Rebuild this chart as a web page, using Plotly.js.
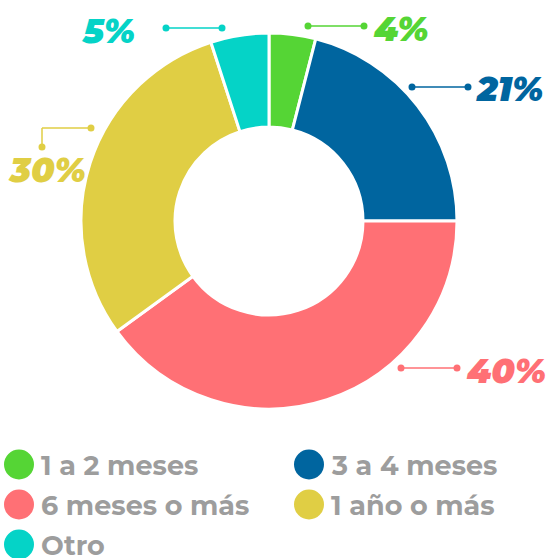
<!DOCTYPE html>
<html>
<head>
<meta charset="utf-8">
<script src="https://cdn.plot.ly/plotly-3.0.1.min.js"></script>
<style>html,body{margin:0;padding:0;background:#fff;}#chart{width:546px;height:558px;}</style>
</head>
<body>
<div id="chart"></div>
<script>
// ---- data ----
const categories = ["1 a 2 meses", "3 a 4 meses", "6 meses o más", "1 año o más", "Otro"];
const values = [4, 21, 40, 30, 5];
const colors = ["#55d535", "#00659f", "#ff7075", "#e0ce44", "#05d3c7"];

// ---- layout helpers (pixel -> paper) ----
const W = 546, H = 558;
const px = x => x / W;
const py = y => 1 - y / H;

// label placement (style/position config, not data)
const labelCfg = [
  {tx: 371, ty: 29, anchor: "left",  pts: [[308,26],[364,26]]},
  {tx: 474, ty: 89, anchor: "left",  pts: [[412,87],[468,87]]},
  {tx: 464, ty: 371, anchor: "left", pts: [[401,368],[457,368]]},
  {tx: 6,   ty: 170, anchor: "left", pts: [[91,128],[42,128],[42,147]]},
  {tx: 137, ty: 31, anchor: "right", pts: [[166,28],[222,28]]}
];
const legendCfg = [
  {cx: 19, cy: 464.5}, {cx: 309, cy: 464.5},
  {cx: 19, cy: 504.5}, {cx: 309, cy: 504.5},
  {cx: 19, cy: 544.5}
];

const total = values.reduce((a, b) => a + b, 0);
const shapes = [];
const annotations = [];

values.forEach((v, i) => {
  const c = labelCfg[i];
  const pct = Math.round(v / total * 100) + "%";
  for (let k = 0; k < c.pts.length - 1; k++) {
    shapes.push({type: "line", xref: "paper", yref: "paper",
      x0: px(c.pts[k][0]), y0: py(c.pts[k][1]), x1: px(c.pts[k+1][0]), y1: py(c.pts[k+1][1]),
      line: {color: colors[i], width: 1.5}});
  }
  [c.pts[0], c.pts[c.pts.length - 1]].forEach(p => {
    shapes.push({type: "circle", xref: "paper", yref: "paper",
      xsizemode: "pixel", ysizemode: "pixel", xanchor: px(p[0]), yanchor: py(p[1]),
      x0: -3.5, x1: 3.5, y0: -3.5, y1: 3.5,
      fillcolor: colors[i], line: {width: 0}});
  });
  annotations.push({text: pct, xref: "paper", yref: "paper", x: px(c.tx), y: py(c.ty),
    xanchor: c.anchor, yanchor: "middle", showarrow: false,
    font: {family: "Montserrat, 'Open Sans', sans-serif", size: 34, color: colors[i], weight: 900, style: "italic"}});
});

categories.forEach((name, i) => {
  const l = legendCfg[i];
  shapes.push({type: "circle", xref: "paper", yref: "paper",
    xsizemode: "pixel", ysizemode: "pixel", xanchor: px(l.cx), yanchor: py(l.cy),
    x0: -15, x1: 15, y0: -15, y1: 15,
    fillcolor: colors[i], line: {width: 0}});
  annotations.push({text: name, xref: "paper", yref: "paper", x: px(l.cx + 20), y: py(l.cy + 1),
    xanchor: "left", yanchor: "middle", showarrow: false,
    font: {family: "Montserrat, 'Open Sans', sans-serif", size: 27, color: "#9d9d9d", weight: 700}});
});

const trace = {
  type: "pie",
  labels: categories,
  values: values,
  hole: 0.5,
  sort: false,
  direction: "clockwise",
  rotation: 0,
  textinfo: "none",
  hoverinfo: "label+percent",
  marker: {colors: colors, line: {color: "#ffffff", width: 3}},
  domain: {x: [px(81), px(457)], y: [py(409), py(33)]},
  showlegend: false
};

const layout = {
  width: W, height: H,
  margin: {l: 0, r: 0, t: 0, b: 0},
  paper_bgcolor: "#ffffff",
  showlegend: false,
  shapes: shapes,
  annotations: annotations
};

Plotly.newPlot("chart", [trace], layout, {displayModeBar: false, staticPlot: true});
</script>
</body>
</html>
